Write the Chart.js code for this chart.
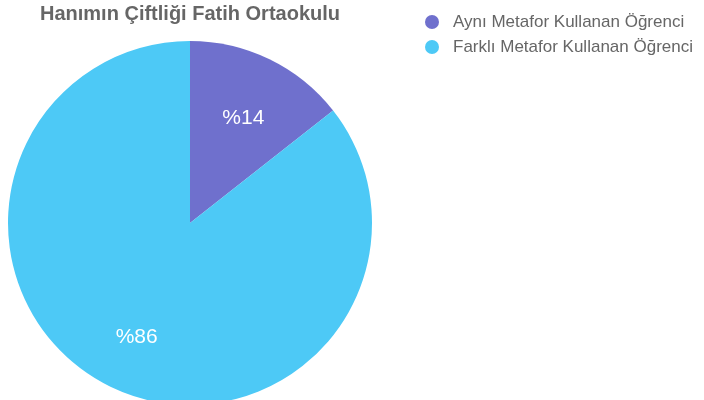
<!DOCTYPE html>
<html>
<head>
<meta charset="utf-8">
<script src="https://cdn.jsdelivr.net/npm/chart.js@4/dist/chart.umd.min.js"></script>
<style>
  html, body { margin: 0; padding: 0; background: #fff; overflow: hidden; }
  #wrap { position: relative; width: 704px; height: 420px; }
  #legend { position: absolute; left: 425px; top: 9px; font: 17px "Liberation Sans", Arial, sans-serif; color: #666; }
  #legend .item { height: 25px; line-height: 25px; white-space: nowrap; }
  #legend .dot { display: inline-block; width: 14px; height: 14px; border-radius: 50%; vertical-align: -2px; margin-right: 14px; }
</style>
</head>
<body>
<div id="wrap">
  <canvas id="pieChart" width="704" height="420"></canvas>
  <div id="legend"></div>
</div>
<script>
const chartTitle = "Hanımın Çiftliği Fatih Ortaokulu";
const categories = ["Aynı Metafor Kullanan Öğrenci", "Farklı Metafor Kullanan Öğrenci"];
const shares = [14.4, 85.6];
const sliceLabels = ["%14", "%86"];
const sliceColors = ["#6f70cd", "#4dc9f6"];

// Build the legend next to the pie
const legendBox = document.getElementById("legend");
categories.forEach((name, i) => {
  const row = document.createElement("div");
  row.className = "item";
  const dot = document.createElement("span");
  dot.className = "dot";
  dot.style.background = sliceColors[i];
  row.appendChild(dot);
  row.appendChild(document.createTextNode(name));
  legendBox.appendChild(row);
});

// Percent text inside each slice
const sliceText = {
  id: "sliceText",
  afterDatasetsDraw(chart) {
    const ctx = chart.ctx;
    const arcs = chart.getDatasetMeta(0).data;
    ctx.save();
    ctx.fillStyle = "#fff";
    ctx.font = '21px "Liberation Sans", Arial, sans-serif';
    ctx.textAlign = "center";
    ctx.textBaseline = "middle";
    arcs.forEach((arc, i) => {
      const p = arc.getProps(["x", "y", "startAngle", "endAngle", "outerRadius"], true);
      const mid = (p.startAngle + p.endAngle) / 2;
      const r = p.outerRadius * 0.67;
      ctx.fillText(sliceLabels[i], p.x + Math.cos(mid) * r, p.y + Math.sin(mid) * r + 5);
    });
    ctx.restore();
  }
};

const ctx = document.getElementById("pieChart").getContext("2d");
new Chart(ctx, {
  type: "pie",
  data: {
    labels: categories,
    datasets: [
      {
        data: shares,
        backgroundColor: sliceColors,
        borderWidth: 0,
      },
    ],
  },
  options: {
    responsive: false,
    animation: false,
    devicePixelRatio: 1,
    layout: {
      padding: { left: 0, right: 324, top: 0, bottom: 15 },
    },
    plugins: {
      legend: { display: false },
      tooltip: { enabled: false },
      title: {
        display: true,
        text: chartTitle,
        fullSize: false,
        color: "#666",
        font: { family: '"Liberation Sans", Arial, sans-serif', size: 20, weight: "bold" },
        padding: { top: 2, bottom: 15 },
      },
    },
  },
  plugins: [sliceText],
});
</script>
</body>
</html>
